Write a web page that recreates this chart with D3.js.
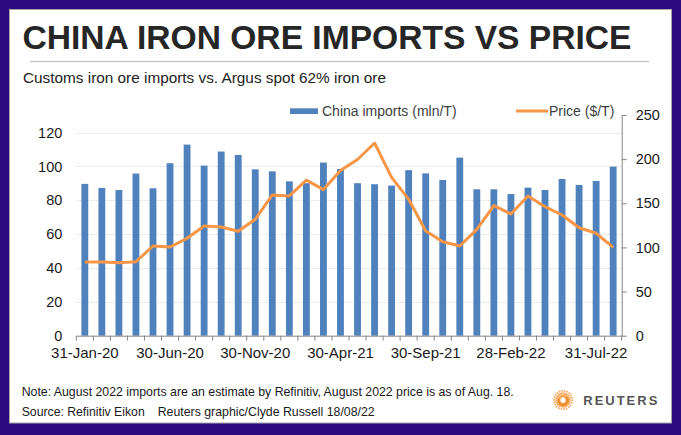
<!DOCTYPE html>
<html lang="en">
<head>
<meta charset="utf-8">
<title>China iron ore imports vs price</title>
<script src="https://cdn.jsdelivr.net/npm/d3@7"></script>
<style>
  body { margin: 0; background: #2b0a7e; }
  svg { display: block; font-family: "Liberation Sans", Arial, sans-serif; }
</style>
</head>
<body>
<script>
// month-end dates, Jan 2020 - Aug 2022
var months = ["31-Jan-20","29-Feb-20","31-Mar-20","30-Apr-20","31-May-20","30-Jun-20",
  "31-Jul-20","31-Aug-20","30-Sep-20","31-Oct-20","30-Nov-20","31-Dec-20",
  "31-Jan-21","28-Feb-21","31-Mar-21","30-Apr-21","31-May-21","30-Jun-21",
  "31-Jul-21","31-Aug-21","30-Sep-21","31-Oct-21","30-Nov-21","31-Dec-21",
  "31-Jan-22","28-Feb-22","31-Mar-22","30-Apr-22","31-May-22","30-Jun-22",
  "31-Jul-22","31-Aug-22"];

// China imports (mln/T)
var imports = [89.7, 87.3, 86.1, 95.8, 87.1, 101.9, 112.9, 100.5, 108.8, 106.8, 98.3, 97.1,
  91.2, 90.1, 102.3, 98.5, 90.1, 89.5, 88.7, 97.8, 95.9, 92.0, 105.2, 86.5,
  86.5, 83.7, 87.5, 86.1, 92.6, 89.1, 91.4, 99.9];

// Argus 62% price ($/T)
var prices = [83.5, 83.4, 82.5, 83.8, 101.6, 100.5, 110.3, 124.3, 123.1, 118.3, 131.8, 159.4,
  158.3, 176.2, 165.5, 187.0, 199.6, 218.3, 179.4, 154.5, 118.6, 106.5, 101.6, 120.5,
  147.3, 137.9, 158.3, 146.1, 136.7, 122.3, 116.0, 100.1];

var leftTicks = [0, 20, 40, 60, 80, 100, 120];
var rightTicks = [0, 50, 100, 150, 200, 250];
var xLabels = ["31-Jan-20","30-Jun-20","30-Nov-20","30-Apr-21","30-Sep-21","28-Feb-22","31-Jul-22"];

var w = 681, h = 435;
// plot area (note: "top" is reserved on window, so prefixed names)
var pLeft = 76.3, pRight = 621.7, pTop = 115, pBottom = 335.7;

var svg = d3.select("body").append("svg")
  .attr("width", w)
  .attr("height", h);

// frame
svg.append("rect").attr("width", w).attr("height", h).attr("fill", "#2b0a7e");
svg.append("rect")
  .attr("x", 9.5).attr("y", 9.5)
  .attr("width", 662).attr("height", 413.5)
  .attr("fill", "#fff")
  .attr("stroke", "#a6a6a6");

// header
svg.append("text")
  .attr("x", 22.5).attr("y", 48.5)
  .attr("textLength", 609).attr("lengthAdjust", "spacingAndGlyphs")
  .style("font-size", "33.5px").style("font-weight", "bold")
  .attr("fill", "#262626")
  .text("CHINA IRON ORE IMPORTS VS PRICE");

svg.append("line")
  .attr("x1", 30).attr("x2", 649)
  .attr("y1", 61.5).attr("y2", 61.5)
  .attr("stroke", "#c8c8c8").attr("stroke-width", 1.5);

svg.append("text")
  .attr("x", 23).attr("y", 82.5)
  .attr("textLength", 363).attr("lengthAdjust", "spacingAndGlyphs")
  .style("font-size", "14.5px")
  .attr("fill", "#222")
  .text("Customs iron ore imports vs. Argus spot 62% iron ore");

// scales
var xScale = d3.scaleBand()
  .domain(months)
  .range([pLeft, pRight])
  .padding(0);

var barScale = d3.scaleBand()
  .domain(months)
  .range([pLeft, pRight])
  .paddingInner(0.6)
  .paddingOuter(0.3);

var yLeft = d3.scaleLinear().domain([0, 130.4]).range([pBottom, pTop]);
var yRight = d3.scaleLinear().domain([0, 250]).range([pBottom, pTop]);

// gridlines
svg.append("g")
  .selectAll("line")
  .data(leftTicks.slice(1))
  .enter().append("line")
  .attr("x1", pLeft).attr("x2", pRight)
  .attr("y1", function(d) { return Math.round(yLeft(d)) + 0.5; })
  .attr("y2", function(d) { return Math.round(yLeft(d)) + 0.5; })
  .attr("stroke", "#d9d9d9")
  .attr("stroke-dasharray", "1,1");

// bars
svg.append("g")
  .selectAll("rect")
  .data(imports)
  .enter().append("rect")
  .attr("x", function(d, i) { return barScale(months[i]); })
  .attr("width", barScale.bandwidth())
  .attr("y", function(d) { return yLeft(d); })
  .attr("height", function(d) { return pBottom - yLeft(d); })
  .attr("fill", "#4f81bd");

// x axis
var xAxis = d3.axisBottom(xScale)
  .tickValues(xLabels)
  .tickSize(0)
  .tickPadding(12);

var gx = svg.append("g")
  .attr("transform", "translate(0," + pBottom + ")")
  .call(xAxis);
gx.select(".domain").attr("stroke", "#868686");
gx.selectAll("text").style("font-size", "15px").attr("fill", "#1a1a1a")
  .attr("font-family", "Liberation Sans, Arial, sans-serif");

// category boundary ticks
gx.selectAll(".boundary")
  .data(months.concat(["end"]))
  .enter().append("line")
  .attr("class", "boundary")
  .attr("x1", function(d, i) { return i < months.length ? xScale(d) : pRight; })
  .attr("x2", function(d, i) { return i < months.length ? xScale(d) : pRight; })
  .attr("y1", 0).attr("y2", 5)
  .attr("stroke", "#868686");

// left axis
var gl = svg.append("g")
  .attr("transform", "translate(" + (pLeft - 14) + ",0)")
  .call(d3.axisLeft(yLeft).tickValues(leftTicks).tickSize(0).tickPadding(0));
gl.select(".domain").remove();
gl.selectAll("text").style("font-size", "14.5px").attr("fill", "#1a1a1a")
  .attr("font-family", "Liberation Sans, Arial, sans-serif");

// right axis
var gr = svg.append("g")
  .attr("transform", "translate(" + pRight + ",0)")
  .call(d3.axisRight(yRight).tickValues(rightTicks).tickSizeInner(5).tickSizeOuter(0).tickPadding(9));
gr.select(".domain").attr("stroke", "#868686");
gr.selectAll(".tick line").attr("stroke", "#868686");
gr.selectAll("text").style("font-size", "14.5px").attr("fill", "#1a1a1a")
  .attr("font-family", "Liberation Sans, Arial, sans-serif");

// price line
var line = d3.line()
  .x(function(d, i) { return xScale(months[i]) + xScale.bandwidth() / 2; })
  .y(function(d) { return yRight(d); });

svg.append("path")
  .datum(prices)
  .attr("d", line)
  .attr("fill", "none")
  .attr("stroke", "#f79646")
  .attr("stroke-width", 3)
  .attr("stroke-linejoin", "round");

// legend
svg.append("rect")
  .attr("x", 290).attr("y", 108.3)
  .attr("width", 28).attr("height", 5.7)
  .attr("fill", "#4f81bd");
svg.append("text")
  .attr("x", 322).attr("y", 116)
  .style("font-size", "14px").attr("fill", "#404040")
  .text("China imports (mln/T)");
svg.append("line")
  .attr("x1", 516).attr("x2", 548)
  .attr("y1", 111).attr("y2", 111)
  .attr("stroke", "#f79646").attr("stroke-width", 3);
svg.append("text")
  .attr("x", 549).attr("y", 116)
  .style("font-size", "14px").attr("fill", "#404040")
  .text("Price ($/T)");

// footer
svg.append("text")
  .attr("x", 21.7).attr("y", 396)
  .attr("textLength", 492).attr("lengthAdjust", "spacingAndGlyphs")
  .style("font-size", "13px").attr("fill", "#1a1a1a")
  .text("Note: August 2022 imports are an estimate by Refinitiv, August 2022 price is as of Aug. 18.");
svg.append("text")
  .attr("x", 21.7).attr("y", 416)
  .attr("textLength", 123).attr("lengthAdjust", "spacingAndGlyphs")
  .style("font-size", "13px").attr("fill", "#1a1a1a")
  .text("Source: Refinitiv Eikon");
svg.append("text")
  .attr("x", 157.7).attr("y", 416)
  .attr("textLength", 217).attr("lengthAdjust", "spacingAndGlyphs")
  .style("font-size", "13px").attr("fill", "#1a1a1a")
  .text("Reuters graphic/Clyde Russell 18/08/22");

// Reuters logo
var logo = svg.append("g").attr("transform", "translate(563,400)");
var dots = d3.range(0, 3).flatMap(function(r) {
  return d3.range(0, 14 + r * 4).map(function(k) {
    return { r: 4 + r * 2.6, a: k * 2 * Math.PI / (14 + r * 4) + r * 0.3, s: 1.5 - r * 0.25 };
  });
});
logo.selectAll("circle")
  .data(dots)
  .enter().append("circle")
  .attr("cx", function(d) { return d.r * Math.cos(d.a); })
  .attr("cy", function(d) { return d.r * Math.sin(d.a); })
  .attr("r", function(d) { return d.s; })
  .attr("fill", "#f5a04a")
  .attr("opacity", 0.85);
logo.append("path")
  .attr("d", "M-4,-1 A4.5,4.5 0 1,0 3,-3")
  .attr("fill", "none")
  .attr("stroke", "#f08a24")
  .attr("stroke-width", 2);
svg.append("text")
  .attr("x", 583.3).attr("y", 404.5)
  .attr("textLength", 74).attr("lengthAdjust", "spacing")
  .style("font-size", "13px").style("font-weight", "bold")
  .attr("fill", "#555")
  .text("REUTERS");
</script>
</body>
</html>
